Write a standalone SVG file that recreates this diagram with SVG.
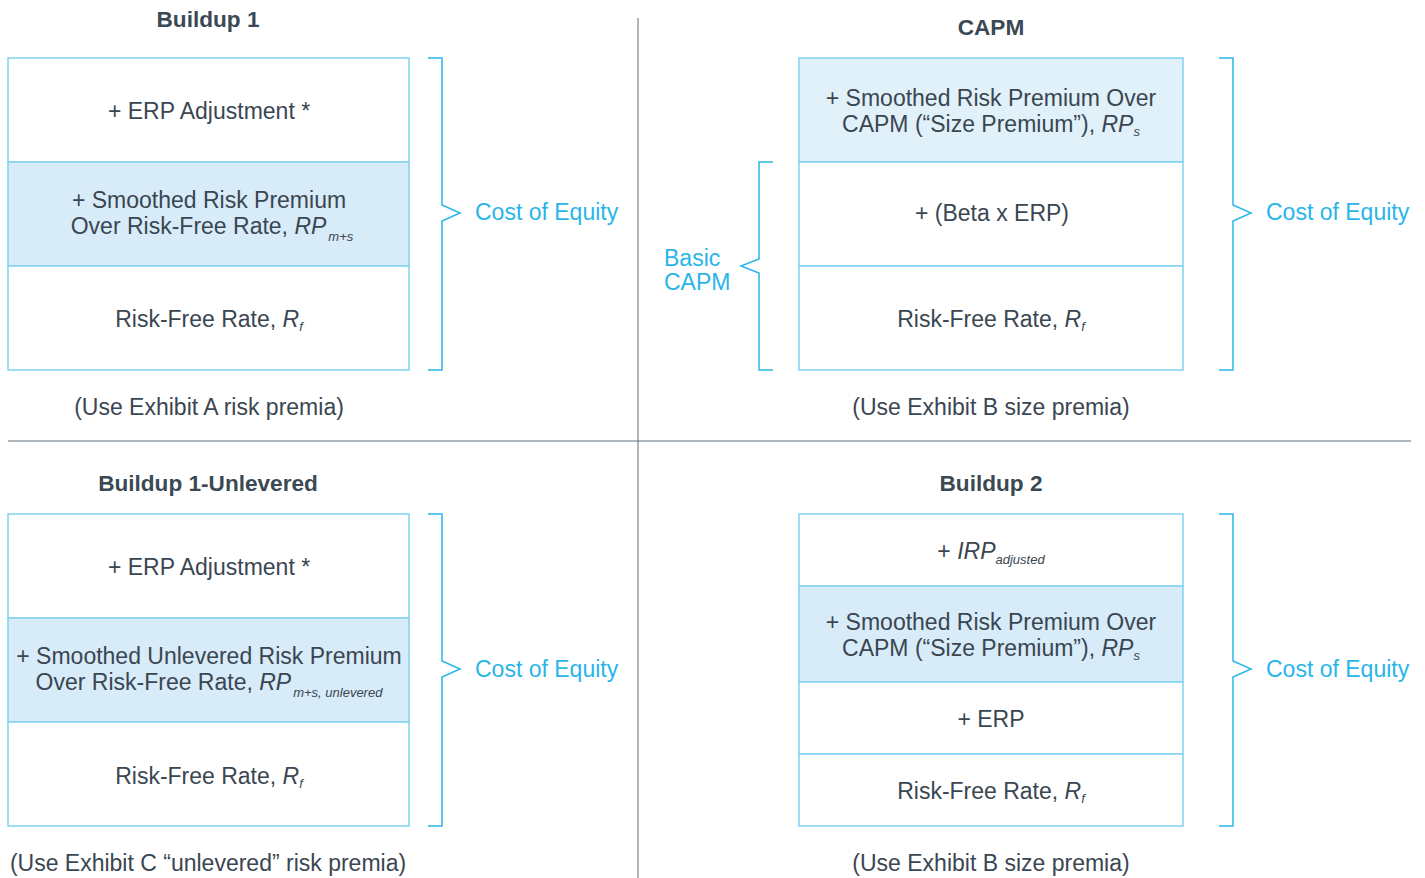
<svg xmlns="http://www.w3.org/2000/svg" width="1425" height="878" viewBox="0 0 1425 878">
<style>
.t{font-family:"Liberation Sans",Arial,sans-serif;font-size:23px;fill:#3a4651;text-anchor:middle}
.h{font-family:"Liberation Sans",Arial,sans-serif;font-size:22.6px;font-weight:bold;fill:#3b4954;text-anchor:middle}
.c{font-family:"Liberation Sans",Arial,sans-serif;font-size:23px;fill:#29b5e8}
.i{font-style:italic}
.sub{font-style:italic;font-size:13px}
.box{fill:#ffffff;stroke:#7fd2f1;stroke-width:1.5}
.sh{fill:#d7ebf8;stroke:#7fd2f1;stroke-width:1.5}
.sh2{fill:#e0f1fa;stroke:#7fd2f1;stroke-width:1.5}
.br{fill:none;stroke:#29b5e8;stroke-width:1.5}
.div{stroke:#5d6d7c;stroke-width:1}
</style>
<rect width="1425" height="878" fill="#ffffff"/>
<g id="dividers">
<line class="div" x1="638" y1="18" x2="638" y2="878"/>
<line class="div" x1="8" y1="441" x2="1411" y2="441"/>
</g>
<g id="buildup1">
<text class="h" x="208" y="27">Buildup 1</text>
<rect class="box" x="8" y="58" width="401" height="104"/>
<rect class="sh" x="8" y="162" width="401" height="104"/>
<rect class="box" x="8" y="266" width="401" height="104"/>
<text class="t" x="209" y="119">+ ERP Adjustment *</text>
<text class="t" x="209" y="208">+ Smoothed Risk Premium</text>
<text class="t" x="212" y="234">Over Risk-Free Rate, <tspan class="i">RP</tspan><tspan class="sub" dx="2" dy="7">m+s</tspan></text>
<text class="t" x="209" y="327">Risk-Free Rate, <tspan class="i">R</tspan><tspan class="sub" dy="4">f</tspan></text>
<text class="t" x="209" y="415">(Use Exhibit A risk premia)</text>
</g>
<g id="capm">
<text class="h" x="991" y="35">CAPM</text>
<rect class="sh2" x="799" y="58" width="384" height="104"/>
<rect class="box" x="799" y="162" width="384" height="104"/>
<rect class="box" x="799" y="266" width="384" height="104"/>
<text class="t" x="991" y="106">+ Smoothed Risk Premium Over</text>
<text class="t" x="991" y="132">CAPM (“Size Premium”), <tspan class="i">RP</tspan><tspan class="sub" dy="4">s</tspan></text>
<text class="t" x="992" y="221">+ (Beta x ERP)</text>
<text class="t" x="991" y="327">Risk-Free Rate, <tspan class="i">R</tspan><tspan class="sub" dy="4">f</tspan></text>
<text class="t" x="991" y="415">(Use Exhibit B size premia)</text>
</g>
<g id="buildup1-unlevered">
<text class="h" x="208" y="491">Buildup 1-Unlevered</text>
<rect class="box" x="8" y="514" width="401" height="104"/>
<rect class="sh" x="8" y="618" width="401" height="104"/>
<rect class="box" x="8" y="722" width="401" height="104"/>
<text class="t" x="209" y="575">+ ERP Adjustment *</text>
<text class="t" x="209" y="664">+ Smoothed Unlevered Risk Premium</text>
<text class="t" x="209" y="690">Over Risk-Free Rate, <tspan class="i">RP</tspan><tspan class="sub" dx="2" dy="7">m+s, unlevered</tspan></text>
<text class="t" x="209" y="784">Risk-Free Rate, <tspan class="i">R</tspan><tspan class="sub" dy="4">f</tspan></text>
<text class="t" x="208" y="871">(Use Exhibit C “unlevered” risk premia)</text>
</g>
<g id="buildup2">
<text class="h" x="991" y="491">Buildup 2</text>
<rect class="box" x="799" y="514" width="384" height="72"/>
<rect class="sh" x="799" y="586" width="384" height="96"/>
<rect class="box" x="799" y="682" width="384" height="72"/>
<rect class="box" x="799" y="754" width="384" height="72"/>
<text class="t" x="991" y="559">+ <tspan class="i">IRP</tspan><tspan class="sub" dy="5">adjusted</tspan></text>
<text class="t" x="991" y="630">+ Smoothed Risk Premium Over</text>
<text class="t" x="991" y="656">CAPM (“Size Premium”), <tspan class="i">RP</tspan><tspan class="sub" dy="4">s</tspan></text>
<text class="t" x="991" y="727">+ ERP</text>
<text class="t" x="991" y="799">Risk-Free Rate, <tspan class="i">R</tspan><tspan class="sub" dy="4">f</tspan></text>
<text class="t" x="991" y="871">(Use Exhibit B size premia)</text>
</g>
<g id="connectors">
<path class="br" d="M428 58 H442 V205 L460 213 L442 221 V370 H428"/>
<path class="br" d="M1219 58 H1233 V205 L1251 213 L1233 221 V370 H1219"/>
<path class="br" d="M773 162 H759 V259 L741 266 L759 273 V370 H773"/>
<path class="br" d="M428 514 H442 V661 L460 669 L442 677 V826 H428"/>
<path class="br" d="M1219 514 H1233 V661 L1251 669 L1233 677 V826 H1219"/>
</g>
<g id="labels">
<text class="c" x="475" y="220">Cost of Equity</text>
<text class="c" x="1266" y="220">Cost of Equity</text>
<text class="c" x="664" y="266">Basic</text>
<text class="c" x="664" y="290">CAPM</text>
<text class="c" x="475" y="677">Cost of Equity</text>
<text class="c" x="1266" y="677">Cost of Equity</text>
</g>
</svg>
